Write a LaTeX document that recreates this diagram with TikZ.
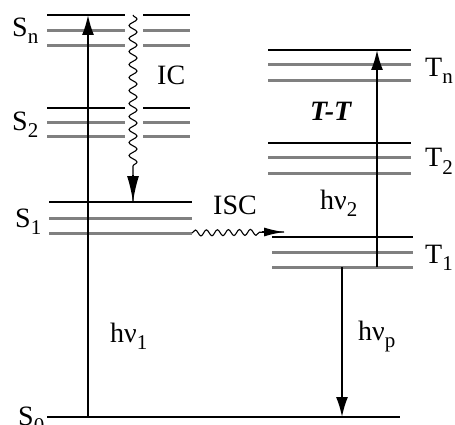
\documentclass[tikz,border=0pt]{standalone}
\usepackage{fontspec}
\setmainfont{Liberation Serif}
\usetikzlibrary{arrows.meta,decorations.pathmorphing}
\newcommand\lowsub[1]{\raisebox{-7pt}{\fontsize{21}{22}\selectfont #1}}
\begin{document}
\begin{tikzpicture}[x=1pt,y=-1pt,
 lk/.style={line width=1.4pt,black},
 lg/.style={line width=3pt,black!50},
 lbl/.style={anchor=base west,inner sep=0pt,font=\fontsize{28}{30}\selectfont},
 arr/.style={line width=1.8pt,-{Latex[length=20pt,width=12pt]}},
 wavy/.style={line width=1.1pt,decorate,decoration={snake,amplitude=4pt,segment length=13pt,post length=30pt}},
 wavyh/.style={line width=1.1pt,decorate,decoration={snake,amplitude=3pt,segment length=11pt,post length=24pt}},
 tip/.style={-{Latex[length=20pt,width=9pt]}}]
\useasboundingbox (0,0) rectangle (455,425);
% S_n
\draw[lk] (47,15) -- (125,15) (143,15) -- (190,15);
\draw[lg] (47,31) -- (125,31) (143,31) -- (190,31);
\draw[lg] (47,46) -- (125,46) (143,46) -- (190,46);
% S_2
\draw[lk] (47,108) -- (125,108) (143,108) -- (190,108);
\draw[lg] (47,123) -- (125,123) (143,123) -- (190,123);
\draw[lg] (47,137) -- (125,137) (143,137) -- (190,137);
% S_1
\draw[lk] (49,202) -- (192,202);
\draw[lg] (49,218) -- (192,218);
\draw[lg] (49,233) -- (192,233);
% S_0
\draw[lk,line width=1.6pt] (47,417) -- (400,417);
% T_n
\draw[lk] (268,50) -- (411,50);
\draw[lg] (268,65) -- (411,65);
\draw[lg] (268,81) -- (411,81);
% T_2
\draw[lk] (268,143) -- (411,143);
\draw[lg] (268,157) -- (411,157);
\draw[lg] (268,173) -- (411,173);
% T_1
\draw[lk] (272,237) -- (413,237);
\draw[lg] (272,252) -- (413,252);
\draw[lg] (272,267) -- (413,267);
% coordinates
\coordinate (a1) at (88,417);
\coordinate (a2) at (88,15);
\coordinate (b1) at (377,267);
\coordinate (b2) at (377,50);
\coordinate (p1) at (342,267);
\coordinate (p2) at (342,417);
\coordinate (ic1) at (133,15);
\coordinate (ic2) at (133,202);
\coordinate (isc1) at (192,233);
\coordinate (isc2) at (284,232);
% arrows
\draw[arr] (a1) -- (a2);
\draw[arr] (b1) -- (b2);
\draw[arr] (p1) -- (p2);
\draw[wavy] (ic1) -- (ic2);
\draw[line width=1.6pt,-{Latex[length=26pt,width=12pt]}] ([yshift=27pt]ic2) -- (ic2);
\draw[wavyh] (isc1) -- (isc2);
\draw[line width=1.3pt,tip] ([xshift=-22pt]isc2) -- (isc2);
% labels
\node[lbl] (Sn) at (12,37) {S\lowsub{n}};
\node[lbl] (S2) at (12,131) {S\lowsub{2}};
\node[lbl] (S1) at (15,227) {S\lowsub{1}};
\node[lbl] (S0) at (18,425) {S\lowsub{0}};
\node[lbl] (IC) at (157,85) {IC};
\node[lbl] (ISC) at (213,214) {ISC};
\node[lbl] (TT) at (310,121) {\textbf{\textit{T-T}}};
\node[lbl] (hv2) at (320,209) {hν\lowsub{2}};
\node[lbl] (Tn) at (425,77) {T\lowsub{n}};
\node[lbl] (T2) at (425,167) {T\lowsub{2}};
\node[lbl] (T1) at (425,263) {T\lowsub{1}};
\node[lbl] (hv1) at (110,342) {hν\lowsub{1}};
\node[lbl] (hvp) at (358,340) {hν\lowsub{p}};
\end{tikzpicture}
\end{document}
